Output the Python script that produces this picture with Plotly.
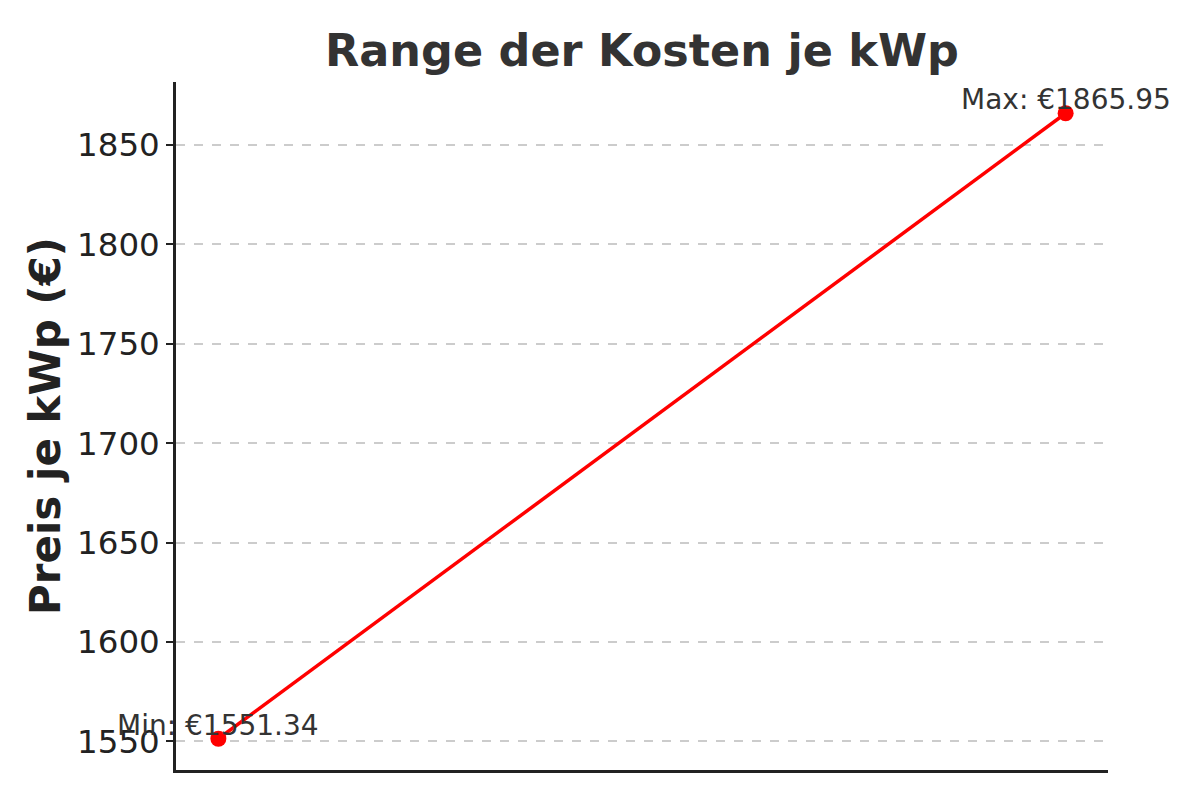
import plotly.graph_objects as go

x_pos = [0, 1]
prices = [1551.34, 1865.95]
labels = ["Min: €1551.34", "Max: €1865.95"]
y_ticks = [1550, 1600, 1650, 1700, 1750, 1800, 1850]

FONT = "DejaVu Sans"

fig = go.Figure()
fig.add_trace(go.Scatter(
    x=x_pos, y=prices, mode="lines+markers",
    line=dict(color="red", width=3.5),
    marker=dict(color="red", size=16),
    showlegend=False, cliponaxis=False,
))

for xv, yv, t in zip(x_pos, prices, labels):
    fig.add_annotation(x=xv, y=yv, text=t, showarrow=False,
                       xanchor="center", yanchor="bottom", yshift=-5,
                       font=dict(family=FONT, size=28, color="#333333"))

span = prices[1] - prices[0]
fig.update_layout(
    width=1200, height=800,
    paper_bgcolor="white", plot_bgcolor="white",
    margin=dict(l=176, r=92, t=82, b=30),
    title=dict(text="<b>Range der Kosten je kWp</b>", x=642 / 1200, xanchor="center",
               y=1 - 50 / 800, yanchor="middle",
               font=dict(family=FONT, size=44.5, color="#333333")),
    font=dict(family=FONT),
)

fig.update_xaxes(range=[-0.05, 1.05], showticklabels=False, ticks="",
                 showgrid=False, zeroline=False,
                 showline=True, linecolor="#222222", linewidth=2.5)
fig.update_yaxes(range=[prices[0] - 0.05 * span, prices[1] + 0.05 * span],
                 tickvals=y_ticks, ticks="outside", ticklen=7, tickwidth=2,
                 tickcolor="#222222",
                 tickfont=dict(family=FONT, size=32.5, color="#222222"),
                 showgrid=True, gridcolor="#cccccc", gridwidth=1.5, griddash="dash",
                 zeroline=False, showline=True, linecolor="#222222", linewidth=2.5,
                 title=dict(text="<b>Preis je kWp (€)</b>", standoff=4,
                            font=dict(family=FONT, size=42, color="#222222")))

fig.write_html("out.html", config={"displayModeBar": False},
               post_script="document.body.style.margin='0';")
